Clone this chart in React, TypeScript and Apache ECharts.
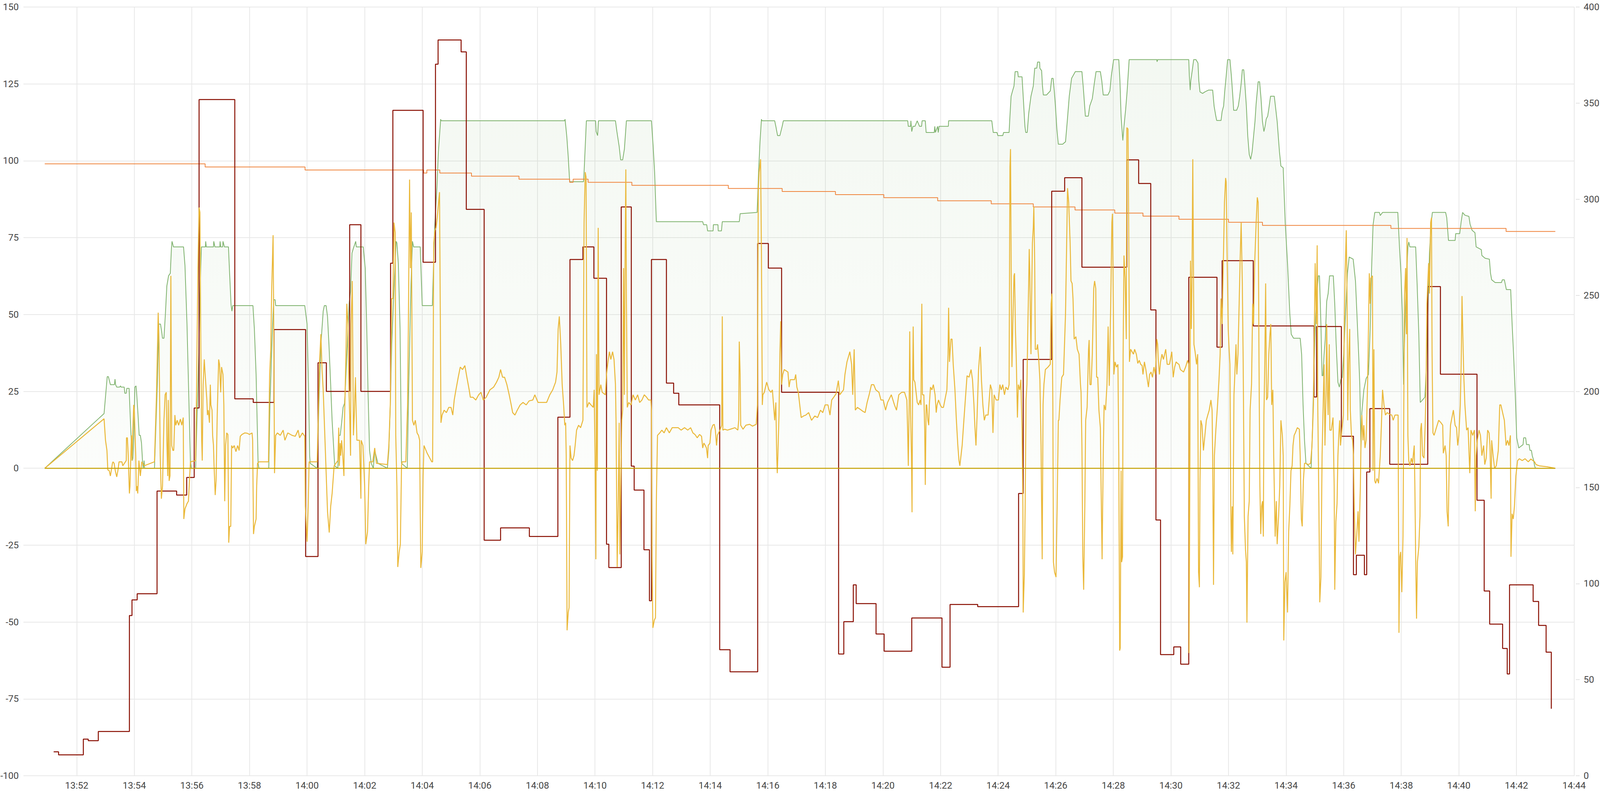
import React, { useEffect, useRef } from "react";
import * as echarts from "echarts";

// time is expressed in minutes after 13:00
const X_MIN = 50.15; // 13:50:09
const X_MAX = 104.02; // 14:44:01
const xTickMinutes = [52, 54, 56, 58, 60, 62, 64, 66, 68, 70, 72, 74, 76, 78, 80, 82, 84, 86, 88, 90, 92, 94, 96, 98, 100, 102, 104];

const leftAxis = { min: -100, max: 150, step: 25 };
const rightAxis = { min: 0, max: 400, step: 50 };

const greenSeries: [number, number][] = [
  [50.89,0],[52.95,17.8],[53.06,29.8],[53.1,29.8],[53.17,27.2],[53.31,27.2],[53.33,29],[53.35,27.2],[53.39,26.4],[53.49,26.4],[53.52,26.8],[53.54,26.4],[53.65,26.4],[53.67,24.4],[53.72,24.4],[53.74,26],[53.82,26],[53.85,18.9],[53.9,7.4],[53.93,2.5],[53.95,3.3],[53.98,10.7],[54.02,26.4],[54.06,26.8],[54.08,24.7],[54.13,17.3],[54.17,10.7],[54.21,10.7],[54.25,8.2],[54.29,1.6],[54.31,0],[54.34,2.5],[54.36,0],[54.7,0],[54.8,27.2],[54.85,46.9],[54.91,46.9],[54.95,44.5],[54.98,42.3],[55.03,42.3],[55.08,50.2],[55.13,59.3],[55.19,62.6],[55.25,63.4],[55.29,71.6],[55.31,73.8],[55.36,72],[55.71,72],[55.76,65.9],[55.83,46.9],[55.9,20.6],[55.95,2.1],[55.98,0],[56.13,0],[56.24,37.1],[56.29,60.1],[56.33,72],[56.47,72],[56.48,73.8],[56.5,72],[56.75,72],[56.76,73.8],[56.8,72],[56.97,72],[56.98,73.8],[57.0,72],[57.07,72],[57.08,73.8],[57.13,72],[57.27,72],[57.31,63.4],[57.36,53.2],[57.39,51.1],[57.42,52.9],
  [58.12,52.9],[58.17,45.3],[58.23,30.5],[58.27,14],[58.3,1.6],[58.33,0],[58.67,0],[58.71,20.6],[58.79,43.6],[58.84,54.8],[58.89,54.8],[58.91,52.9],[59.92,52.9],[60.0,46.9],[60.05,27.2],[60.09,4.1],[60.11,1.6],[60.35,0],[60.41,20.6],[60.48,40.3],[60.56,51.1],[60.6,52.9],[60.66,52.9],[60.71,49.4],[60.76,40.3],[60.82,27.2],[60.87,15.6],[60.92,7.4],[60.96,0.8],[61.07,0],[61.1,10.7],[61.15,10.7],[61.2,14.8],[61.25,19.8],[61.3,21.1],[61.33,26.4],[61.38,36.2],[61.46,53.5],[61.51,57.6],[61.56,70],[61.61,71.6],[61.69,73.8],[61.71,72],[61.95,72],[62.02,65.1],[62.07,46.9],[62.12,23.9],[62.17,5.8],[62.23,1.6],[62.3,0],[62.35,5.8],[62.46,1.6],[62.79,0],[62.84,5.8],[62.89,20.6],[62.94,40.3],[63.0,54.3],[63.05,65.1],[63.09,73.8],[63.12,73.3],[63.17,66.7],[63.23,45.3],[63.28,1.6],[63.48,0],[63.53,27.2],[63.61,60.1],[63.66,73.8],[63.7,72],[63.93,72],[64.0,52.9],[64.35,52.9],[64.43,78.2],[64.51,91.4],[64.56,102.9],[64.64,113.5],[64.66,113],
  [68.94,113],[68.96,113.5],[69.02,107.9],[69.07,101.3],[69.12,93.2],[69.6,93.2],[69.62,96.3],[69.66,104.6],[69.7,113],[70.02,113],[70.04,109.5],[70.09,108.2],[70.12,113],[70.71,113],[70.76,109.5],[70.84,104.6],[70.89,100.3],[70.96,100.3],[71.02,103.8],[71.09,113],[71.96,113],[72.02,104.6],[72.07,96.3],[72.13,80.2],
  [73.74,80.2],[73.77,79.2],[73.88,79.2],[73.91,77.2],[74.1,77.2],[74.11,79.2],[74.27,79.2],[74.28,77.2],[74.39,77.2],[74.42,80.2],[75.01,80.2],[75.04,82.8],[75.63,83.2],[75.68,96.3],[75.73,106.2],[75.78,113.5],[75.8,113],[76.24,113],[76.28,111.2],[76.34,108.2],[76.42,108.2],[76.5,111.2],[76.54,113],[80.86,113],[80.88,111.2],[80.96,111.2],[80.97,113],[81.0,109.5],[81.04,111.2],[81.11,111.2],[81.19,113],[81.27,111.2],[81.34,111.2],[81.36,113],[81.47,113],[81.5,109.2],[81.78,109.2],[81.8,111.2],[81.82,109.2],[81.9,111.2],[81.92,109.2],[81.95,111.2],[82.27,111.2],[82.28,113],[83.78,113],[83.83,109.2],[83.96,109.2],[83.99,108.2],[84.16,108.2],[84.19,109.2],[84.38,109.2],[84.41,114.5],[84.45,121],[84.5,122.7],[84.55,124.3],[84.59,129],[84.68,129],[84.7,127.3],[84.83,127.3],[84.88,119.4],[84.93,111.2],[84.96,109.2],[85.01,109.2],[85.06,115.3],[85.14,121],[85.22,124.3],[85.27,130.1],[85.34,130.1],[85.37,132.1],[85.44,132.1],[85.45,130.1],[85.51,129.3],[85.54,124.3],[85.57,121.4],[85.68,121.4],[85.81,122.7],[85.86,126.8],[85.91,126.8],[85.95,122.7],[85.99,117.8],[86.04,110.3],[86.09,105.4],[86.24,105.4],[86.34,106.2],[86.4,112.8],[86.47,121],[86.55,126.8],[86.68,129],[86.91,129],[86.96,123.5],[87.03,114.5],[87.13,114.5],[87.18,117.8],[87.27,120.2],[87.34,125.2],[87.4,129],[87.55,129],[87.6,126],[87.65,121.4],[87.81,121.4],[87.88,122.7],[87.93,127.6],[88.01,132.9],[88.19,132.9],[88.23,126],[88.27,114.5],[88.33,106.6],[88.37,111.2],[88.43,116.9],[88.48,122.7],[88.55,132.9],
  [89.51,132.9],[89.52,132.2],[89.54,132.9],[90.62,132.9],[90.64,127.6],[90.67,123],[90.69,126],[90.74,129.3],[90.79,132.9],[90.87,132.9],[90.94,131.8],[90.97,126],[91.01,122.4],[91.1,121.9],[91.18,122.4],[91.31,123],[91.45,123],[91.5,117.8],[91.56,114.5],[91.59,113.1],[91.74,113.1],[91.78,116.1],[91.83,117.8],[91.87,122.7],[91.92,127.6],[91.97,132.9],[92.05,132.9],[92.1,127.6],[92.15,121],[92.18,116.4],[92.28,116.4],[92.34,117.8],[92.39,121],[92.44,125.2],[92.48,129.6],[92.53,129.6],[92.56,126],[92.62,117.8],[92.67,107.9],[92.72,102.1],[92.77,100.5],[92.82,102.9],[92.87,107.9],[92.92,112.8],[92.96,118.6],[93.03,125.7],[93.08,125.7],[93.13,120.2],[93.18,112.8],[93.23,109.5],[93.27,111.2],[93.31,113.6],[93.36,114.5],[93.4,116.9],[93.46,121],[93.59,121],[93.64,116.9],[93.69,112.8],[93.77,102.9],[93.82,98.3],[93.9,97.7],[93.97,79.9],[94.05,66.7],[94.13,50.2],[94.18,43.6],[94.26,42.3],[94.49,42.3],[94.54,37.1],[94.59,20.6],[94.64,9.1],[94.69,1.6],[94.87,0],[94.92,14],[94.97,33.8],[95.03,50.2],[95.08,58.5],[95.12,62.6],[95.16,62.6],[95.21,46.9],[95.25,30.1],[95.28,30.1],[95.32,37.1],[95.36,42],[95.41,54.3],[95.46,56.8],[95.51,62.6],[95.64,62.6],[95.69,53.5],[95.74,40.3],[95.8,28],[95.85,26.4],[95.9,28.8],[95.95,29.6],[96.0,37.1],[96.08,53.5],[96.13,63.4],[96.19,68.7],[96.33,68],
  [96.41,60.9],[96.46,50.2],[96.52,37.1],[96.56,27.2],[96.6,6.6],[96.63,18.1],[96.7,25.5],[96.78,29.2],[96.86,30.5],[96.92,45.3],[96.97,65.1],[97.02,79.1],[97.08,83.2],[97.24,83.2],[97.27,82.2],[97.35,83.2],[97.88,83.2],[97.94,71.6],[97.99,63.4],[98.04,50.2],[98.08,27.2],[98.11,40.3],[98.17,60.1],[98.23,72],[98.26,73.6],[98.3,72],[98.5,72],[98.55,60.1],[98.61,43.6],[98.66,21.4],[98.82,23.1],[98.87,32.1],[98.93,53.5],[98.98,70],[99.04,79.9],[99.08,83.2],[99.54,83.2],[99.58,81.5],[99.64,74.1],[99.87,74.1],[99.89,76.3],[100.03,76.3],[100.08,80.2],[100.13,83.2],[100.21,82.3],[100.35,81.9],[100.39,79.4],[100.46,77.4],[100.56,76.6],[100.6,72],[100.78,71.1],[100.8,69.2],[100.91,68.3],[101.06,68],[101.1,63.4],[101.14,61.3],[101.26,60.4],[101.48,60.4],[101.51,61.3],[101.58,61.3],[101.65,58.1],[101.8,58.1],[101.85,46.9],[101.9,37.1],[101.96,23.9],[102.01,9.9],[102.08,6.6],[102.23,7.7],[102.25,9.9],[102.32,9.9],[102.35,7.7],[102.44,7.7],[102.47,5.8],[102.52,5.8],[102.55,4.1],[102.6,2.5],[102.63,0.8],[102.66,0],
];

const orangeSteps: [number, number][] = [
  [50.89,99],[56.46,98],[59.93,97],[64.05,96],[64.16,97],[64.61,96],[65.71,95],[67.36,94],[69.12,93],[69.24,94],[69.76,93],[71.28,92],[74.63,91],[76.5,90],[78.35,89],[80.03,88],[81.9,87],[83.76,86],[85.22,85],[86.67,84],[88.05,83],[89.03,82],[90.28,81],[92.0,80],[93.18,79],[97.64,78],[101.64,77],[103.35,77],
];

const redSteps: [number, number][] = [
  [51.2,-92.2],[51.37,-93.2],[52.23,-88.1],[52.4,-88.6],[52.75,-85.6],[53.83,-47.9],[53.92,-42.8],[54.1,-40.8],[54.79,-7.4],[55.47,-8.7],[55.82,-3],[56.08,19.6],[56.25,119.9],[57.49,22.6],[58.13,21.4],[58.85,45.1],[59.95,-28.7],[60.38,34.3],[60.67,25],[61.48,79.2],[61.87,25],[62.9,66.7],[62.98,116.4],[64.03,67],[64.46,131.4],[64.55,139.3],[65.35,135.4],[65.53,84.2],[66.15,-23.4],[66.72,-19.4],[67.72,-22.2],[68.71,16.6],[69.13,67.9],[69.58,72],[69.96,61.8],[70.4,-24.7],[70.48,-32.3],[70.91,85],[71.26,0.7],[71.36,-7.1],[71.7,-26.5],[71.89,-43.1],[71.96,67.9],[72.48,27.7],[72.73,24.4],[72.91,20.6],[74.33,-59],[74.69,-66.2],[75.65,73.1],[76.02,65.1],[76.48,24.7],[78.46,-60.4],[78.64,-49.9],[78.97,-37.9],[79.07,-44],[79.76,-53.9],[80.04,-59.5],[81.0,-48.7],[82.05,-64.7],[82.33,-44.3],[83.29,-45],[84.71,-8.2],[84.87,35.4],[85.86,90.1],[86.31,94.5],[86.91,65.4],[88.47,100.3],[88.88,92.6],[89.3,51.5],[89.48,-16.8],[89.64,-60.6],[90.1,-58.1],[90.34,-63.7],[90.62,62.1],[91.6,39.4],[91.78,67.5],[92.86,46.3],[94.97,23.2],[95.06,46.1],[95.92,10.4],[96.34,-34.6],[96.44,-28.3],[96.72,-34.6],[96.8,-1.2],[96.91,19.4],[97.6,1.3],[98.92,59.1],[99.36,30.6],[100.63,-10.4],[100.88,-39.9],[101.07,-50.7],[101.52,-58.6],[101.68,-66.9],[101.76,-37.9],[102.58,-43.3],[102.77,-51.1],[103.03,-59.8],[103.21,-78.2],
];

const yellowSeries: [number, number][] = [
  [50.89,0],[52.95,16.1],[53.0,9.1],[53.05,5.8],[53.08,-0.5],[53.13,-0.8],[53.17,-2.5],[53.2,-0.8],[53.24,1.6],[53.26,2.1],[53.3,1.6],[53.34,-0.8],[53.39,-2.8],[53.43,-0.8],[53.47,2.1],[53.57,2.1],[53.6,0.8],[53.72,2.5],[53.73,9.9],[53.76,9.9],[53.79,4.1],[53.83,-8.2],[53.85,-5.8],[53.88,4.1],[53.9,10.7],[53.92,2.5],[53.94,10.7],[53.98,20.6],[54.0,18.9],[54.05,4.1],[54.07,-7.4],[54.1,-5.8],[54.12,-8.2],[54.16,2.5],[54.21,-2.5],[54.26,2.1],[54.34,0.8],[54.7,2.1],[54.77,23.9],[54.83,50.6],[54.86,40.3],[54.9,4.1],[54.94,-9.9],[54.98,-5.8],[55.03,15.6],[55.07,23.9],[55.11,24.7],[55.13,9.1],[55.16,-2.5],[55.18,22.2],[55.21,-4.1],[55.24,-2.5],[55.27,62.6],[55.3,7.4],[55.34,5.8],[55.37,5.8],[55.41,17.3],[55.44,14],[55.49,15.6],[55.54,14],[55.6,16],[55.65,14],[55.7,16.5],[55.72,-16.5],[55.76,-13.2],[55.83,-11.5],[55.88,-10.7],[55.92,-3.3],[55.95,2.1],[56.13,2.5],[56.16,23.9],[56.21,65.1],[56.25,84.8],[56.28,83.2],[56.31,38.7],[56.34,9.1],[56.36,2.5],[56.39,27.2],[56.43,35.4],[56.45,32.1],[56.49,26.4],[56.52,22.2],[56.54,17.3],[56.57,18.9],[56.61,14.8],[56.64,27.2],[56.66,20.6],[56.7,18.9],[56.72,10.7],[56.75,7.4],[56.77,0.8],[56.81,-8.7],[56.84,-4.1],[56.88,17.3],[56.93,35.4],[56.96,33.8],[57.0,24.7],[57.03,32.9],[57.08,30.5],[57.11,20.6],[57.14,-10.7],[57.17,7.4],[57.21,11.5],[57.25,11],[57.28,-24.2],[57.31,-18.9],[57.35,-18.9],[57.38,7.4],[57.42,6.6],[57.47,7.4],[57.53,5.4],[57.59,7.4],[57.64,5.8],[57.68,10.4],[57.74,11],[57.84,11.5],[57.92,11.4],[58.0,11],[58.09,11.5],[58.11,9.1],[58.14,-21.4],[58.17,-18.9],[58.23,-16.5],[58.25,-5.8],[58.28,1.6],[58.33,2.1],[58.66,2.1],[58.7,30.5],[58.74,38.7],[58.77,57.6],[58.82,75.8],[58.84,50.2],[58.87,-1.6],[58.91,10.7],[58.97,11.5],[59.07,10.7],[59.17,12.4],[59.23,9.1],[59.33,11.5],[59.48,10.7],[59.59,10.4],[59.69,12.4],[59.74,9.9],[59.84,11.5],[59.92,10.4],[59.94,-12.4],[60.0,-23.9],[60.04,-12.4],[60.07,2.1],[60.35,2.1],[60.39,17.3],[60.43,33.8],[60.48,43.6],[60.52,32.1],[60.56,25.5],[60.61,12.4],[60.66,-0.8],[60.71,-14],[60.77,-20.9],[60.82,-12.4],[60.87,-8.2],[60.94,0.8],[61.07,2.5],[61.1,13.2],[61.12,0.8],[61.15,8.2],[61.17,4.1],[61.2,9.1],[61.24,4.1],[61.28,-2.5],[61.3,15.6],[61.35,37.1],[61.38,53.5],[61.42,46.9],[61.46,23.9],[61.48,17.3],[61.51,4.1],[61.53,46.9],[61.57,60.9],[61.61,10.7],[61.64,17.3],[61.68,29.6],[61.7,20.6],[61.73,9.1],[61.82,9.1],[61.87,-9.9],[61.88,9.1],[61.94,7.4],[62.0,-5.8],[62.04,-24.7],[62.1,-20.6],[62.14,-5.8],[62.17,2.1],[62.28,2.1],[62.35,6.6],[62.41,1.6],[62.79,1.2],[62.84,7.4],[62.89,20.6],[62.94,55.2],[62.98,55.2],[63.02,79.9],[63.06,76.6],[63.08,10.7],[63.12,-5.8],[63.15,-32.1],[63.2,-27.2],[63.24,-24.7],[63.28,0.8],[63.3,2.1],[63.43,2.1],[63.49,20.6],[63.52,48.6],[63.56,93.9],[63.59,65.1],[63.62,83.2],[63.66,15.6],[63.71,14],[63.76,15.6],[63.82,11.5],[63.87,10.7],[63.91,9.1],[63.93,-14],[63.95,-32.4],[64.0,-27.2],[64.03,-2.5],[64.06,7.4],[64.17,4.9],[64.33,2.1],[64.36,2.1],[64.4,73.3],[64.44,77.4],[64.48,78.2],[64.52,81.5],[64.56,85.6],[64.6,89.8],[64.62,60.1],[64.65,14.8],[64.69,17.3],[64.76,18.9],[64.84,18.1],[64.92,19.8],[65.0,19.8],[65.06,17.3],[65.11,22.2],[65.17,25.5],[65.25,29.6],[65.32,32.9],[65.4,32.1],[65.48,33.4],[65.55,29.6],[65.63,25.5],[65.67,23.1],[65.76,23.1],[65.86,22.2],[65.96,23.9],[66.04,24.7],[66.12,22.2],[66.22,23.1],[66.35,25.5],[66.48,26.4],[66.58,28],[66.66,29.6],[66.72,32.1],[66.79,29.6],[66.86,29.6],[66.94,27.2],[67.02,23.9],[67.09,20.6],[67.14,18.1],[67.22,17.3],[67.3,18.9],[67.4,20.6],[67.5,21.4],[67.61,20.6],[67.71,21.9],[67.84,22.2],[67.91,23.9],[68.02,21.4],[68.12,21.4],[68.22,21.4],[68.32,21.4],[68.43,23.9],[68.53,25.5],[68.63,28],[68.68,31.3],[68.72,45.3],[68.76,49.4],[68.81,40.3],[68.86,27.2],[68.91,20.6],[68.95,14],[68.98,14.8],[69.0,4.1],[69.03,-52.7],[69.07,-46.9],[69.1,-45.3],[69.13,7.4],[69.17,3.3],[69.22,2.5],[69.27,4.1],[69.31,7.4],[69.36,12.4],[69.43,14],[69.5,13.2],[69.58,15.6],[69.62,79.9],[69.66,96.3],[69.69,94.7],[69.72,19.8],[69.79,21.4],[69.86,20.6],[69.94,19.8],[69.97,25.5],[70.0,4.1],[70.03,-29.6],[70.05,37.1],[70.08,-0.8],[70.11,78.2],[70.14,23.9],[70.2,27.2],[70.25,24.7],[70.36,23.9],[70.4,30.5],[70.45,34.6],[70.5,37.9],[70.55,35.4],[70.61,37.9],[70.66,35.4],[70.71,27.2],[70.73,15.6],[70.77,-32.1],[70.81,-9.1],[70.84,14.8],[70.86,-28],[70.89,-7.4],[70.93,15.6],[70.96,18.9],[70.99,65.1],[71.02,23.9],[71.04,61.8],[71.07,97.2],[71.09,56.8],[71.12,19.8],[71.17,21.4],[71.25,20.6],[71.32,23.9],[71.4,22.2],[71.48,23.9],[71.55,21.4],[71.63,22.2],[71.71,23.9],[71.79,23.1],[71.86,22.2],[71.94,22.2],[71.96,18.9],[71.98,-28.8],[72.01,-51.9],[72.06,-49.4],[72.1,-48.6],[72.13,-10.7],[72.17,10.7],[72.25,11.5],[72.32,12.4],[72.4,11.5],[72.48,13.2],[72.58,11.5],[72.68,13.2],[72.79,13.2],[72.89,13.2],[72.99,12.4],[73.11,13.2],[73.22,12.4],[73.32,13.2],[73.4,11.5],[73.47,11],[73.55,9.9],[73.63,11],[73.7,10.4],[73.74,6.6],[73.78,8.2],[73.83,7.4],[73.87,6.6],[73.91,3.3],[73.93,7.4],[73.99,8.2],[74.03,12.4],[74.09,14],[74.14,14.3],[74.18,12.4],[74.22,7.4],[74.25,10.7],[74.29,11.5],[74.34,12.4],[74.4,14],[74.42,49.4],[74.44,12.4],[74.5,12.7],[74.6,12.4],[74.7,12.7],[74.86,13.2],[74.96,12.4],[74.99,15.6],[75.01,41.2],[75.04,30.5],[75.06,14],[75.14,12.7],[75.24,14],[75.37,14.3],[75.47,13.7],[75.6,14.3],[75.64,20.6],[75.67,89.8],[75.7,96.3],[75.75,100.5],[75.78,70],[75.81,20.6],[75.83,23.9],[75.88,24.7],[75.96,28],[76.04,25.5],[76.11,24.7],[76.16,25.5],[76.2,20.6],[76.24,15.6],[76.28,21.4],[76.31,4.1],[76.33,-1.6],[76.35,4.1],[76.39,17.3],[76.42,37.1],[76.45,47.8],[76.48,27.2],[76.52,30.5],[76.57,32.1],[76.7,31.3],[76.74,26.4],[76.78,28.8],[76.93,28.8],[76.97,30.5],[77.01,26.4],[77.06,24.7],[77.11,20.6],[77.16,16.5],[77.24,17],[77.32,17.3],[77.42,18.1],[77.52,15.6],[77.63,17],[77.73,16.5],[77.83,18.9],[77.91,18.1],[77.99,20.6],[78.09,20.6],[78.16,17.3],[78.22,22.2],[78.29,23.1],[78.37,24.2],[78.45,28.5],[78.5,23.9],[78.63,25.5],[78.68,30.5],[78.75,34.6],[78.85,37.9],[78.91,33.8],[78.95,23.9],[79.0,38.7],[79.04,18.9],[79.11,19.8],[79.19,19.3],[79.29,18.6],[79.38,18.1],[79.45,21.4],[79.52,23.9],[79.6,27.2],[79.68,27.2],[79.75,25.5],[79.86,24.7],[79.93,22.2],[80.01,22.2],[80.09,18.9],[80.16,21.4],[80.29,23.9],[80.4,20.6],[80.47,18.9],[80.55,23.9],[80.65,24.7],[80.75,24.7],[80.83,22.2],[80.86,10.7],[80.88,0.8],[80.91,20.6],[80.93,44.5],[80.96,17.3],[80.99,4.1],[81.01,-14.3],[81.03,27.2],[81.05,46.1],[81.07,28.8],[81.11,28],[81.14,25.5],[81.19,21.4],[81.24,20.6],[81.29,22.2],[81.32,20.6],[81.33,37.1],[81.35,53.5],[81.37,23.9],[81.42,23.9],[81.45,12.4],[81.47,-5.4],[81.5,20.6],[81.52,20.6],[81.56,15.6],[81.59,14],[81.61,20.6],[81.65,26.4],[81.7,25.5],[81.75,27.2],[81.81,23.9],[81.85,18.1],[81.88,20.6],[81.93,22.2],[81.99,20.6],[82.04,19.8],[82.1,19.8],[82.15,22.2],[82.22,25.5],[82.26,37.1],[82.28,52.2],[82.31,34.6],[82.36,42],[82.4,42],[82.44,33.8],[82.5,25.5],[82.55,15.6],[82.6,7.4],[82.64,2.5],[82.67,0.8],[82.7,3.3],[82.75,7.4],[82.81,15.6],[82.86,22.2],[82.92,30.1],[82.99,29.6],[83.06,32.1],[83.11,28.8],[83.16,20.6],[83.19,14],[83.23,7.4],[83.27,17.3],[83.32,32.1],[83.38,39.5],[83.42,28.8],[83.47,20.6],[83.52,15.6],[83.57,17.3],[83.65,17.3],[83.73,27.2],[83.78,25.5],[83.82,11.5],[83.86,23.9],[83.93,22.2],[84.01,22.2],[84.06,27.2],[84.11,25.5],[84.16,27.2],[84.22,23.9],[84.27,26.4],[84.34,25.5],[84.38,27.2],[84.41,98],[84.43,103.8],[84.46,53.5],[84.48,32.9],[84.51,46.9],[84.55,62.6],[84.57,63.4],[84.6,45.3],[84.63,35.4],[84.67,16.5],[84.7,27.2],[84.75,25.5],[84.79,28.8],[84.83,12.4],[84.86,-12.4],[84.87,-46.9],[84.91,-34.6],[84.94,-10.7],[84.97,22.2],[85.0,27.2],[85.03,45.3],[85.06,60.1],[85.08,71.3],[85.1,63.4],[85.12,48.6],[85.14,37.1],[85.16,53.5],[85.19,73.3],[85.22,78.2],[85.24,85.1],[85.27,66.7],[85.29,38.7],[85.34,38.7],[85.37,40.3],[85.41,35.4],[85.45,28.8],[85.49,7.4],[85.51,-12.4],[85.53,-29.6],[85.56,20.6],[85.59,27.2],[85.64,32.1],[85.73,32.9],[85.81,33.8],[85.84,53.5],[85.87,56.8],[85.9,20.6],[85.92,-30.5],[85.96,-33.8],[86.01,-35.4],[86.05,-12.4],[86.09,15.6],[86.11,15.6],[86.15,22.2],[86.21,29.6],[86.27,30.5],[86.34,50.2],[86.41,91.1],[86.45,86.5],[86.5,73.3],[86.53,60.9],[86.57,60.1],[86.6,55.2],[86.64,42],[86.7,42.8],[86.75,38.7],[86.81,37.1],[86.86,27.2],[86.88,24.7],[86.91,7.4],[86.94,-28.8],[86.97,-39.5],[87.01,-12.4],[87.04,15.6],[87.09,19.8],[87.14,38.7],[87.16,41.7],[87.19,27.2],[87.23,27.2],[87.27,37.1],[87.32,58.5],[87.35,60.9],[87.39,58.5],[87.42,29.6],[87.46,29.6],[87.5,18.9],[87.55,13.2],[87.57,-2.5],[87.61,-29.6],[87.65,4.1],[87.68,20.6],[87.73,18.9],[87.78,27.2],[87.82,46.1],[87.86,26.8],[87.91,53.5],[87.95,79.9],[87.97,82.8],[88.0,53.5],[88.02,30.5],[88.06,34.6],[88.11,32.9],[88.16,33.8],[88.19,4.1],[88.22,-59.3],[88.24,-58.5],[88.27,-0.8],[88.29,-30.5],[88.32,-28.8],[88.34,37.1],[88.37,69.2],[88.41,61.8],[88.45,42],[88.47,110.8],[88.51,110.3],[88.54,70],[88.56,34.6],[88.6,38.7],[88.65,37.9],[88.7,37.1],[88.74,38.7],[88.8,37.1],[88.85,34.1],[88.9,35.1],[88.95,33.8],[89.0,33.4],[89.03,30.5],[89.08,34.6],[89.13,32.1],[89.18,28.8],[89.22,26.4],[89.26,30.5],[89.31,31.3],[89.36,29.6],[89.41,32.9],[89.46,30.5],[89.51,42],[89.54,40.3],[89.56,35.4],[89.6,30.5],[89.64,34.6],[89.69,37.1],[89.74,35.4],[89.82,38.7],[89.87,33.8],[89.95,33.8],[90.03,37.9],[90.08,29.6],[90.13,32.9],[90.18,34.6],[90.23,34.1],[90.28,33.8],[90.33,32.1],[90.44,31.3],[90.51,32.9],[90.58,35.1],[90.62,33.8],[90.63,-60.1],[90.66,4.1],[90.68,67.5],[90.71,45.3],[90.73,60.1],[90.76,100.5],[90.8,40.3],[90.84,37.9],[90.89,33.8],[90.93,37.1],[90.96,-33.8],[90.99,-38.7],[91.01,-4.1],[91.04,15.6],[91.08,14],[91.13,5.8],[91.18,10.7],[91.23,15.6],[91.28,17.3],[91.33,18.9],[91.39,22.2],[91.43,18.9],[91.45,4.1],[91.48,-37.9],[91.51,4.1],[91.56,12.4],[91.62,20.6],[91.67,28.8],[91.71,37.1],[91.74,55.2],[91.78,46.9],[91.82,66.7],[91.86,86.5],[91.9,94.4],[91.92,93.1],[91.95,70],[91.99,45.3],[92.02,39],[92.05,33.8],[92.08,-12.4],[92.1,-27.2],[92.13,-12.4],[92.15,-28],[92.19,23.9],[92.22,30.5],[92.26,40.3],[92.29,30.5],[92.33,37.1],[92.37,53.5],[92.41,70],[92.44,79.9],[92.48,60.1],[92.51,34.6],[92.55,-15.6],[92.59,-26.4],[92.62,-30.5],[92.64,-50.2],[92.68,-15.6],[92.72,-10.7],[92.75,18.9],[92.8,27.2],[92.84,53.5],[92.87,46.9],[92.91,66.7],[92.96,79.9],[93.0,88.1],[93.03,86.5],[93.06,33.8],[93.09,-5.8],[93.12,-21.4],[93.15,-12.4],[93.18,-10.7],[93.21,-22.2],[93.23,17.3],[93.26,33.8],[93.29,60.1],[93.32,22.2],[93.36,23.1],[93.4,37.1],[93.44,43.6],[93.47,46.9],[93.5,20.6],[93.54,25.5],[93.57,4.1],[93.62,-22.2],[93.66,-10.7],[93.69,-24.7],[93.74,-15.6],[93.78,-5.8],[93.82,15.6],[93.87,10.7],[93.9,4.1],[93.92,-56],[93.96,-37.1],[94.0,-33.8],[94.05,-46.9],[94.09,-20.6],[94.13,-12.4],[94.17,-0.8],[94.21,0.8],[94.24,7.4],[94.28,10.7],[94.32,11.5],[94.39,13.2],[94.46,12.7],[94.49,4.1],[94.53,-16.5],[94.56,-18.9],[94.6,-4.1],[94.64,1.6],[94.69,1.6],[94.77,1.2],[94.85,1.6],[94.9,7.4],[94.95,20.6],[94.97,37.1],[95.01,66.7],[95.05,46.9],[95.08,72.5],[95.1,20.6],[95.14,-12.4],[95.17,-43.6],[95.21,-35.4],[95.25,4.1],[95.28,17.3],[95.32,33.8],[95.35,7.4],[95.39,25.5],[95.41,46.9],[95.44,23.9],[95.46,17.3],[95.5,40.3],[95.52,12.4],[95.57,12.4],[95.63,16.5],[95.67,-5.8],[95.69,-39.5],[95.73,-17.3],[95.77,-11.5],[95.8,4.1],[95.83,10.7],[95.86,15.6],[95.89,7.4],[95.92,10.7],[95.99,17.3],[96.02,45.3],[96.05,63.4],[96.09,77.4],[96.12,53.5],[96.14,15.6],[96.17,33.8],[96.21,45.3],[96.23,18.9],[96.27,10.7],[96.31,9.1],[96.34,4.1],[96.37,-14],[96.41,-28],[96.45,-22.2],[96.5,-14],[96.53,-23.9],[96.58,-5.8],[96.6,7.4],[96.63,17.3],[96.67,9.1],[96.7,14],[96.74,6.6],[96.78,9.1],[96.83,27.2],[96.86,45.3],[96.89,63.4],[96.92,53.5],[96.94,61.8],[97.0,62.6],[97.02,-0.8],[97.05,38.7],[97.08,-4.1],[97.11,-4.9],[97.16,-3.3],[97.21,-4.9],[97.27,4.1],[97.31,14],[97.35,25.5],[97.4,20.6],[97.45,17.3],[97.51,18.1],[97.59,17.6],[97.67,17.3],[97.72,15.6],[97.78,17.3],[97.89,17.3],[97.92,-53.5],[97.95,-28.8],[97.98,-27.2],[98.02,-40.3],[98.06,-22.2],[98.08,7.4],[98.11,55.2],[98.15,65.1],[98.18,43.6],[98.2,74.9],[98.23,10.7],[98.26,2.5],[98.3,0.8],[98.35,3.3],[98.39,1.6],[98.45,7.4],[98.47,-4.1],[98.5,-28.8],[98.53,-48.9],[98.56,-30.5],[98.61,-25.5],[98.65,-15.6],[98.67,12.4],[98.7,14.7],[98.74,4.1],[98.79,3.3],[98.83,14],[98.86,25.5],[98.89,53.5],[98.92,60.1],[98.95,66.7],[98.98,56.8],[99.02,79.9],[99.05,81.5],[99.07,37.1],[99.1,11.5],[99.14,10.7],[99.22,13.2],[99.3,15.6],[99.38,14.8],[99.44,14],[99.46,4.9],[99.52,7.4],[99.56,4.1],[99.59,-14],[99.63,-18.9],[99.67,4.1],[99.71,14],[99.76,16.5],[99.81,18.9],[99.87,14],[99.92,13.2],[99.96,7.4],[100.0,10.7],[100.05,20.6],[100.08,33.8],[100.11,56],[100.13,46.9],[100.17,30.5],[100.21,20.6],[100.27,12.4],[100.32,13.2],[100.38,-1.6],[100.42,12.4],[100.48,10.7],[100.54,12.4],[100.57,-14],[100.6,4.1],[100.64,9.1],[100.7,12.4],[100.75,10.7],[100.8,4.1],[100.86,7.4],[100.9,1.2],[100.95,3.3],[101.0,12.4],[101.05,11.5],[101.08,7.4],[101.12,-9.9],[101.14,9.1],[101.19,4.1],[101.24,0],[101.3,0.8],[101.37,5.8],[101.42,20.6],[101.46,20.6],[101.5,18.9],[101.58,15.6],[101.64,7.4],[101.69,9.1],[101.74,7.4],[101.79,10.7],[101.81,-28.8],[101.85,-14.8],[101.89,-16.5],[101.93,-12.4],[101.98,-2.5],[102.04,2.5],[102.1,3.1],[102.2,2.5],[102.3,3.1],[102.41,2.1],[102.5,3.0],[102.63,2.1],[102.68,1.2],[102.79,0.8],[103.06,0.5],[103.35,0],
];

const zeroLine: [number, number][] = [[50.89, 0], [103.35, 0]];

const COLORS = {
  green: "#7eb26d",
  orange: "#ef843c",
  yellow: "#eab839",
  red: "#890f02",
  zero: "#c4a000",
  grid: "#e8e8e8",
  text: "#464646",
};

function fmtMinutes(v: number): string {
  const m = Math.round(v);
  const h = 13 + Math.floor(m / 60);
  const mm = m % 60;
  return `${h}:${String(mm).padStart(2, "0")}`;
}

export default function App() {
  const ref = useRef<HTMLDivElement | null>(null);

  useEffect(() => {
    if (!ref.current) return;
    const chart = echarts.init(ref.current, undefined, { renderer: "svg" });
    const labelStyle = {
      color: COLORS.text,
      fontSize: 24,
      fontFamily: "Roboto",
      lineHeight: 24,
    };
    const option: any = {
      animation: false,
      backgroundColor: "#ffffff",
      grid: { left: 60, right: 65, top: 18, bottom: 39, containLabel: false, outerBoundsMode: "none" },
      xAxis: {
        type: "value",
        min: X_MIN,
        max: X_MAX,
        axisLine: { show: false },
        axisTick: { show: false, customValues: xTickMinutes },
        axisLabel: { ...labelStyle, customValues: xTickMinutes, formatter: fmtMinutes, margin: 13 },
        splitLine: { show: true, lineStyle: { color: COLORS.grid, width: 2 } },
      },
      yAxis: [
        {
          type: "value",
          position: "left",
          min: leftAxis.min,
          max: leftAxis.max,
          interval: leftAxis.step,
          axisLine: { show: false },
          axisTick: { show: false },
          axisLabel: { ...labelStyle, margin: 12 },
          splitLine: { show: true, lineStyle: { color: COLORS.grid, width: 2 } },
        },
        {
          type: "value",
          position: "right",
          offset: 3,
          min: rightAxis.min,
          max: rightAxis.max,
          interval: rightAxis.step,
          axisLine: { show: false },
          axisTick: { show: true, length: 10, lineStyle: { color: "#e3e3e3", width: 2 } },
          axisLabel: { ...labelStyle, margin: 20 },
          splitLine: { show: false },
        },
      ],
      series: [
        {
          name: "green",
          type: "line",
          data: greenSeries,
          showSymbol: false,
          symbol: "none",
          silent: true,
          lineStyle: { color: COLORS.green, width: 2 },
          areaStyle: {
            color: new echarts.graphic.LinearGradient(0, 0, 0, 1, [
              { offset: 0, color: "rgba(126,178,109,0.13)" },
              { offset: 1, color: "rgba(126,178,109,0.04)" },
            ]),
          },
          z: 1,
        },
        {
          name: "orange",
          type: "line",
          data: orangeSteps,
          step: "end",
          showSymbol: false,
          symbol: "none",
          silent: true,
          lineStyle: { color: COLORS.orange, width: 2 },
          z: 2,
        },
        {
          name: "red",
          type: "line",
          data: redSteps,
          step: "end",
          showSymbol: false,
          symbol: "none",
          silent: true,
          lineStyle: { color: COLORS.red, width: 2.5 },
          z: 3,
        },
        {
          name: "yellow",
          type: "line",
          data: yellowSeries,
          showSymbol: false,
          symbol: "none",
          silent: true,
          lineStyle: { color: COLORS.yellow, width: 2.5 },
          z: 4,
        },
        {
          name: "zero",
          type: "line",
          data: zeroLine,
          showSymbol: false,
          symbol: "none",
          silent: true,
          lineStyle: { color: COLORS.zero, width: 2.5 },
          z: 5,
        },
      ],
    };
    chart.setOption(option);
    return () => {
      chart.dispose();
    };
  }, []);

  return (
    <div
      ref={ref}
      style={{ position: "fixed", left: 0, top: 0, width: "100vw", height: "100vh", background: "#fff" }}
    />
  );
}
